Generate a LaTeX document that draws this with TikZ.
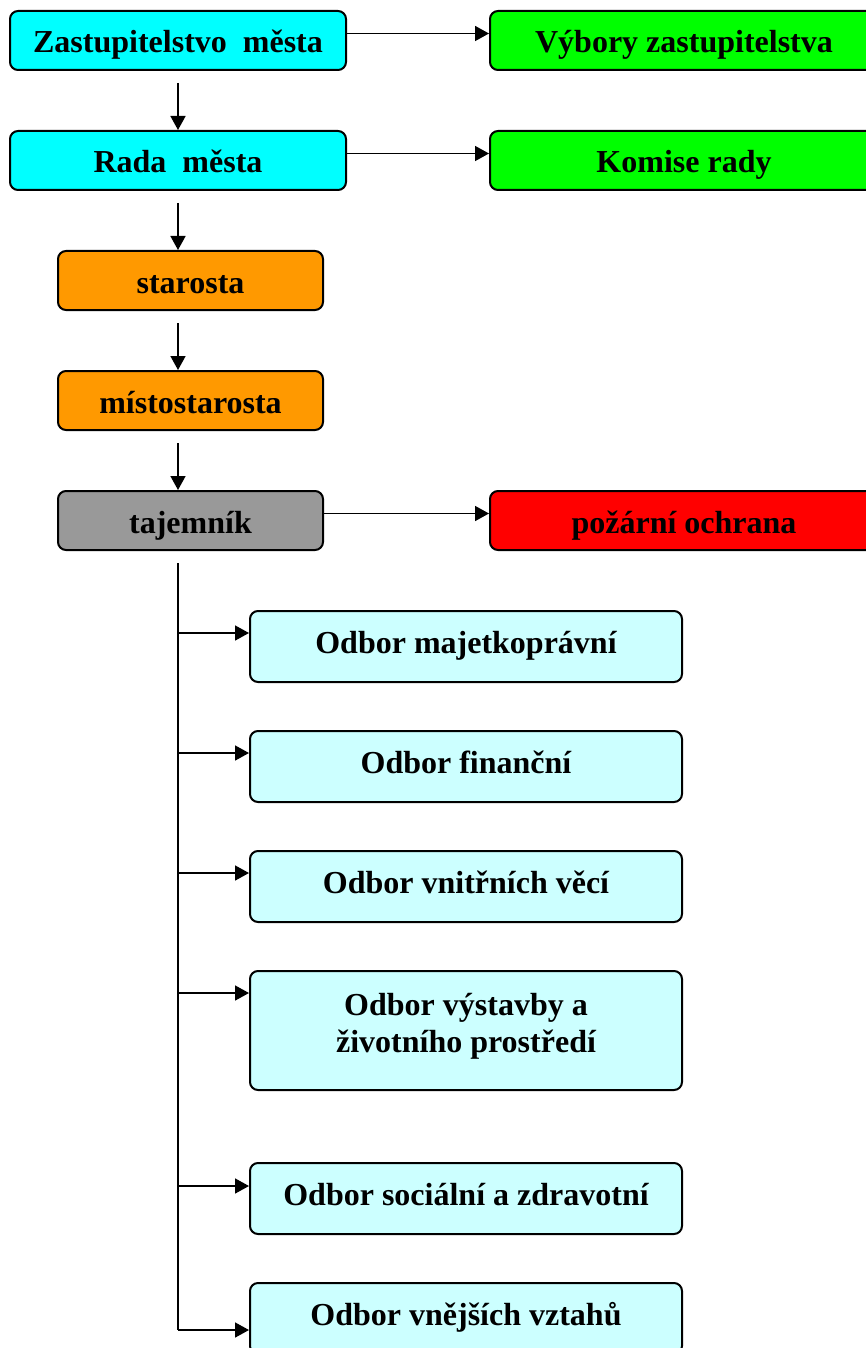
\documentclass[tikz,border=0pt]{standalone}
\usepackage{fontspec}
\setmainfont{Liberation Serif}
\usetikzlibrary{arrows.meta}
\definecolor{cyanbox}{RGB}{0,255,255}
\definecolor{greenbox}{RGB}{0,255,0}
\definecolor{orangebox}{RGB}{255,153,0}
\definecolor{graybox}{RGB}{153,153,153}
\definecolor{redbox}{RGB}{255,0,0}
\definecolor{lightbox}{RGB}{204,255,255}
\tikzset{
  box/.style={draw=black, line width=2pt, rounded corners=8pt, inner sep=0pt,
    font=\fontsize{32}{37}\selectfont\bfseries, align=center},
  shortbox/.style={box, minimum height=59pt, text height=26pt, text depth=1pt},
  topbox/.style={shortbox, minimum width=336pt, fill=cyanbox},
  sidebox/.style={shortbox, minimum width=388pt},
  midbox/.style={shortbox, minimum width=265pt},
  odbox/.style={box, minimum width=432pt, minimum height=71pt, fill=lightbox,
    text height=22pt, text depth=9pt},
  arr/.style={line width=1.6pt, -{Triangle[length=14pt,width=15pt]}},
  ln/.style={line width=1.6pt}
}
\begin{document}
\begin{tikzpicture}[x=1pt,y=-1pt]
\clip (0,0) rectangle (866,1348);
\useasboundingbox (0,0) rectangle (866,1348);
\node[topbox] (z) at (178,40.5) {Zastupitelstvo\ \ města};
\node[sidebox, fill=greenbox] (v) at (684,40.5) {Výbory zastupitelstva};
\node[topbox] (r) at (178,160.5) {Rada\ \ města};
\node[sidebox, fill=greenbox] (k) at (684,160.5) {Komise rady};
\node[midbox, fill=orangebox] (s) at (190.5,280.5) {starosta};
\node[midbox, fill=orangebox] (m) at (190.5,400.5) {místostarosta};
\node[midbox, fill=graybox] (t) at (190.5,520.5) {tajemník};
\node[sidebox, fill=redbox] (p) at (684,520.5) {požární ochrana};
\node[odbox] (o1) at (466,646.5) {Odbor majetkoprávní};
\node[odbox] (o2) at (466,766.5) {Odbor finanční};
\node[odbox] (o3) at (466,886.5) {Odbor vnitřních věcí};
\node[odbox, minimum height=119pt, text height=70pt, text depth=27pt] (o4) at (466,1030.5) {Odbor výstavby a\\ životního prostředí};
\node[odbox] (o5) at (466,1198.5) {Odbor sociální a zdravotní};
\node[odbox] (o6) at (466,1318.5) {Odbor vnějších vztahů};
% vertical chain
\draw[arr, shorten <=12pt] (z.south) -- (r.north);
\draw[arr, shorten <=12pt] (r.south) -- (r.south |- s.north);
\draw[arr, shorten <=12pt] (r.south |- s.south) -- (r.south |- m.north);
\draw[arr, shorten <=12pt] (r.south |- m.south) -- (r.south |- t.north);
% horizontal
\draw[arr] ([yshift=7pt]z.east) -- ([yshift=7pt]v.west);
\draw[arr] ([yshift=7pt]r.east) -- ([yshift=7pt]k.west);
\draw[arr] ([yshift=7pt]t.east) -- ([yshift=7pt]p.west);
% trunk
\coordinate (ttop) at ([yshift=-12pt]r.south |- t.south);
\coordinate (b1) at ([yshift=-23pt]o1.north west);
\coordinate (b2) at ([yshift=-23pt]o2.north west);
\coordinate (b3) at ([yshift=-23pt]o3.north west);
\coordinate (b4) at ([yshift=-23pt]o4.north west);
\coordinate (b5) at ([yshift=-24pt]o5.north west);
\coordinate (b6) at ([yshift=-48pt]o6.north west);
\draw[ln] (ttop) -- (ttop |- b6);
\foreach \b in {b1,b2,b3,b4,b5,b6}{
  \draw[arr] (ttop |- \b) -- (\b);
}
\end{tikzpicture}
\end{document}
